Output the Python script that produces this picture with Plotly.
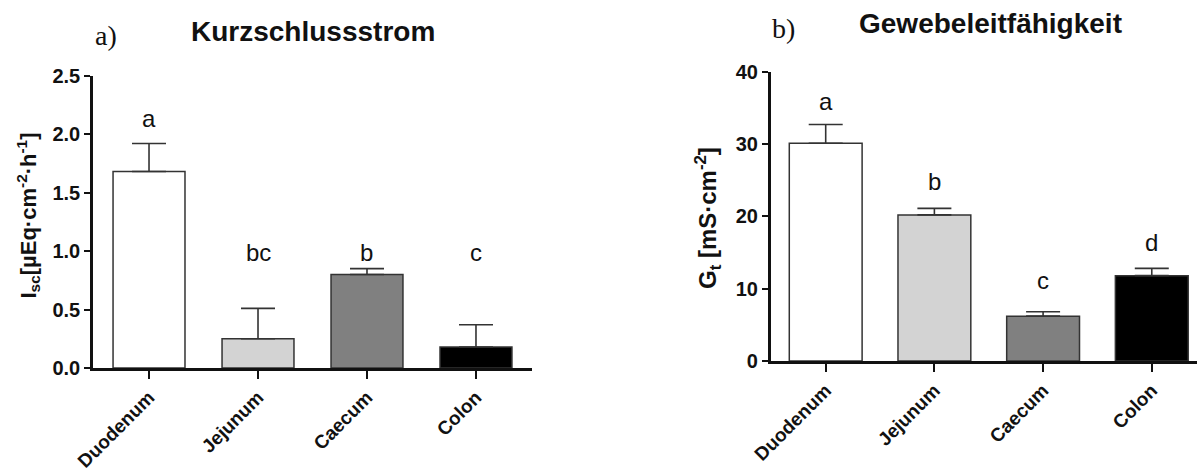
import plotly.graph_objects as go

categories = ["Duodenum", "Jejunum", "Caecum", "Colon"]
bar_colors = ["#ffffff", "#d3d3d3", "#808080", "#000000"]

# a) Kurzschlussstrom
isc_mean = [1.68, 0.25, 0.80, 0.18]
isc_err = [0.24, 0.26, 0.05, 0.19]
isc_letters = ["a", "bc", "b", "c"]
isc_letter_y = [2.13, 0.99, 0.99, 0.99]

# b) Gewebeleitfähigkeit
gt_mean = [30.1, 20.2, 6.2, 11.8]
gt_err = [2.6, 0.9, 0.6, 1.0]
gt_letters = ["a", "b", "c", "d"]
gt_letter_y = [35.9, 24.8, 11.1, 16.4]

W, H = 1197, 475
SANS = "Arial, Liberation Sans, Helvetica, sans-serif"
SERIF = "Times New Roman, Liberation Serif, serif"

fig = go.Figure()

fig.add_trace(go.Bar(
    x=categories, y=isc_mean, xaxis="x", yaxis="y", width=0.66,
    marker=dict(color=bar_colors, line=dict(color="#333333", width=1.5)),
    error_y=dict(type="data", array=isc_err, arrayminus=[0] * 4, symmetric=False,
                 color="#333333", thickness=1.6, width=17),
    showlegend=False, hoverinfo="skip"))

fig.add_trace(go.Bar(
    x=categories, y=gt_mean, xaxis="x2", yaxis="y2", width=0.67,
    marker=dict(color=bar_colors, line=dict(color="#333333", width=1.5)),
    error_y=dict(type="data", array=gt_err, arrayminus=[0] * 4, symmetric=False,
                 color="#333333", thickness=1.6, width=17),
    showlegend=False, hoverinfo="skip"))

def px_x(p):
    return p / W

def px_y(p):
    return 1 - p / H

axis_common = dict(showgrid=False, zeroline=False, showline=True, linecolor="#111111",
                   linewidth=2.6, ticks="outside", tickcolor="#111111", tickwidth=2.4,
                   automargin=False)

xtick_font = dict(family=SANS, size=19, color="#111111", weight="bold")
ytick_font = dict(family=SANS, size=20, color="#111111", weight="bold")

fig.update_layout(
    width=W, height=H, margin=dict(l=0, r=0, t=0, b=0, autoexpand=False),
    paper_bgcolor="white", plot_bgcolor="white",
    bargap=0.3,
    xaxis=dict(domain=[px_x(93), px_x(532)], range=[-0.514, 3.514], anchor="y",
               tickangle=-45, ticklen=8, tickfont=xtick_font, **axis_common),
    yaxis=dict(domain=[px_y(368), px_y(75.7)], range=[0, 2.5], anchor="x",
               tickvals=[0, 0.5, 1.0, 1.5, 2.0, 2.5], ticktext=["0.0", "0.5", "1.0", "1.5", "2.0", "2.5"],
               ticklen=6, tickfont=ytick_font, **axis_common),
    xaxis2=dict(domain=[px_x(770.7), 1.0], range=[-0.506, 3.416], anchor="y2",
                tickangle=-45, ticklen=8, tickfont=xtick_font, **axis_common),
    yaxis2=dict(domain=[px_y(361), px_y(71.7)], range=[0, 40], anchor="x2",
                tickvals=[0, 10, 20, 30, 40], ticklen=6, tickfont=ytick_font, **axis_common),
)

ann = []
for c, t, y in zip(categories, isc_letters, isc_letter_y):
    ann.append(dict(x=c, y=y, xref="x", yref="y", text=t, showarrow=False,
                    xanchor="center", yanchor="middle",
                    font=dict(family=SANS, size=24, color="#111111")))
for c, t, y in zip(categories, gt_letters, gt_letter_y):
    ann.append(dict(x=c, y=y, xref="x2", yref="y2", text=t, showarrow=False,
                    xanchor="center", yanchor="middle",
                    font=dict(family=SANS, size=24, color="#111111")))

def paper_text(x, y, text, font, angle=0):
    return dict(x=px_x(x), y=px_y(y), xref="paper", yref="paper", text=text,
                showarrow=False, xanchor="center", yanchor="middle",
                textangle=angle, font=font)

title_font = dict(family=SANS, size=28, color="#111111", weight="bold")
label_font = dict(family=SERIF, size=28, color="#111111")
ytitle_font = dict(family=SANS, size=22, color="#111111", weight="bold")
ytitle2_font = dict(family=SANS, size=24, color="#111111", weight="bold")

ann += [
    paper_text(312.5, 32, "Kurzschlussstrom", title_font),
    paper_text(106, 35, "a)", label_font),
    paper_text(990, 24, "Gewebeleitfähigkeit", title_font),
    paper_text(783, 29, "b)", label_font),
    paper_text(28.5, 216, "I<sub>sc</sub>[µEq·cm<sup>-2</sup>·h<sup>-1</sup>]", ytitle_font, -90),
    paper_text(708, 218, "G<sub>t</sub> [mS·cm<sup>-2</sup>]", ytitle2_font, -90),
]
fig.update_layout(annotations=ann)

fig.write_html("out.html")
